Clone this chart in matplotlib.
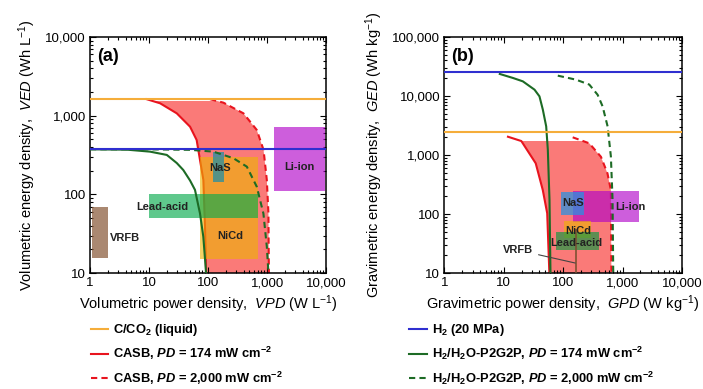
import matplotlib
matplotlib.use("Agg")
import matplotlib.pyplot as plt
from matplotlib.patches import Rectangle

# ---------------- data ----------------
power_ticks = [1, 10, 100, 1000, 10000]
power_tick_labels = ["1", "10", "100", "1,000", "10,000"]
ved_ticks = [10, 100, 1000, 10000]
ved_tick_labels = ["10", "100", "1,000", "10,000"]
ged_ticks = [10, 100, 1000, 10000, 100000]
ged_tick_labels = ["10", "100", "1,000", "10,000", "100,000"]

# (a) volumetric
cco2_ved = 1620
h2_ved = 374
casb174_vpd = [9.1, 15.4, 29.5, 49.5, 64, 83.2, 89, 92.5]
casb174_ved = [1620, 1436, 1070, 724, 491, 152, 35, 10]
casb2000_vpd = [108, 182, 397, 668, 870, 988, 1052, 1070]
casb2000_ved = [1620, 1462, 1070, 658, 366, 152, 57, 10]
p2g174_vpd = [1, 4.2, 10.4, 20, 29.5, 38, 49.5, 60, 73, 83, 92.5]
p2g174_ved = [374, 370, 349, 317, 250, 204, 150, 114, 57, 29, 10]
p2g2000_vpd = [1, 10, 50, 123, 268, 453, 668, 865, 988, 1052]
p2g2000_ved = [374, 373, 368, 349, 288, 225, 125, 57, 21.6, 10]
casb_fill_top_ved = 1550

# boxes: (x0, x1, y0, y1)
vol_boxes = {
    "VRFB": (1.08, 2.0, 15.5, 70),
    "NiCd": (73, 700, 15, 300),
    "Lead-acid": (10, 700, 50, 100),
    "NaS": (120, 186, 145, 350),
    "Li-ion": (1300, 9500, 110, 720),
}

# (b) gravimetric
cco2_ged = 2480
h2_ged = 25800
casb174_gpd = [11.8, 19.8, 34.6, 45.5, 54, 58.7]
casb174_ged = [2040, 1725, 724, 255, 103, 10]
casb2000_gpd = [145, 276, 433, 558, 637, 651]
casb2000_ged = [1995, 1578, 935, 490, 255, 10]
p2g174_gpd = [8.6, 14.3, 21, 33, 40, 45.6, 51.9, 55.3, 59, 61.3]
p2g174_ged = [23600, 20200, 17700, 12800, 9860, 5860, 3060, 1230, 175, 10]
p2g2000_gpd = [81.4, 165, 276, 381, 462, 561, 637, 680, 698]
p2g2000_ged = [22100, 18900, 15600, 10500, 6680, 3060, 950, 175, 10]
casb_fill_top_ged = 1700

grav_boxes = {
    "Li-ion": (145, 1900, 74, 245),
    "NaS": (93, 227, 96, 239),
    "NiCd": (105, 294, 40, 75),
    "Lead-acid": (76, 405, 25, 50),
    "VRFB": (158, 172, 10, 55),
}

legend_left = ["C/CO$_{\\mathbf{2}}$ (liquid)",
               "CASB, $\\mathbfit{PD}$ = 174 mW cm$^{\\mathbf{-2}}$",
               "CASB, $\\mathbfit{PD}$ = 2,000 mW cm$^{\\mathbf{-2}}$"]
legend_right = ["H$_{\\mathbf{2}}$ (20 MPa)",
                "H$_{\\mathbf{2}}$/H$_{\\mathbf{2}}$O-P2G2P, $\\mathbfit{PD}$ = 174 mW cm$^{\\mathbf{-2}}$",
                "H$_{\\mathbf{2}}$/H$_{\\mathbf{2}}$O-P2G2P, $\\mathbfit{PD}$ = 2,000 mW cm$^{\\mathbf{-2}}$"]

# ---------------- style ----------------
FONT = "Liberation Sans"
plt.rcParams["font.family"] = [FONT, "DejaVu Sans"]
plt.rcParams["mathtext.fontset"] = "custom"
plt.rcParams["mathtext.rm"] = FONT
plt.rcParams["mathtext.it"] = FONT + ":italic"
plt.rcParams["mathtext.bf"] = FONT + ":bold"
plt.rcParams["mathtext.bfit"] = FONT + ":italic:bold"

ORANGE = "#f5ad3a"
RED = "#e8141e"
BLUE = "#2f2fd0"
GREEN = "#1d6b25"
PINK = "#fa7a78"
DASH = (0, (3, 2))

vol_style = {
    "VRFB": ("#8a5a3a", 0.72),
    "NiCd": ("#eeb600", 0.6),
    "Lead-acid": ("#0aab4e", 0.65),
    "NaS": ("#1a8fa8", 0.72),
    "Li-ion": ("#b000c8", 0.63),
}
grav_style = {
    "VRFB": ("#7a5030", 0.8),
    "NiCd": ("#eeb600", 0.6),
    "Lead-acid": ("#0a9a40", 0.65),
    "NaS": ("#2592e3", 0.72),
    "Li-ion": ("#b000c8", 0.63),
}

fig = plt.figure(figsize=(7.03, 3.89), dpi=100)
ax_a = fig.add_axes([0.128, 0.298, 0.336, 0.607])
ax_b = fig.add_axes([0.632, 0.298, 0.338, 0.607])


def setup_axes(ax, yticks, ylabels, ylim):
    ax.set_xscale("log")
    ax.set_yscale("log")
    ax.set_xlim(1, 10000)
    ax.set_ylim(*ylim)
    ax.set_xticks(power_ticks, power_tick_labels)
    ax.set_yticks(yticks, ylabels)
    ax.tick_params(which="both", direction="in", top=True, right=True, width=0.8,
                   labelsize=9.5, pad=3)
    ax.tick_params(which="major", length=4)
    ax.tick_params(which="minor", length=2.5)
    for s in ax.spines.values():
        s.set_linewidth(1.1)


def casb_fill(ax, x_lo, y_lo, x_hi, y_hi, top):
    xs = list(x_lo) + list(x_hi)[::-1]
    ys = list(y_lo) + list(y_hi)[::-1]
    poly = ax.fill(xs, ys, color=PINK, lw=0, zorder=1)[0]
    clip = Rectangle((0.5, 1), 1e6, top - 1, transform=ax.transData)
    poly.set_clip_path(clip)


def draw_boxes(ax, boxes, style):
    for name, (x0, x1, y0, y1) in boxes.items():
        color, alpha = style[name]
        ax.add_patch(Rectangle((x0, y0), x1 - x0, y1 - y0, facecolor=color,
                               alpha=alpha, lw=0, zorder=3))


lab = dict(fontsize=8, fontweight="bold", color="#222222", ha="center", va="center", zorder=6)

# ---------- panel (a) ----------
ax = ax_a
setup_axes(ax, ved_ticks, ved_tick_labels, (10, 10000))
casb_fill(ax, casb174_vpd, casb174_ved, casb2000_vpd, casb2000_ved, casb_fill_top_ved)
l_casb174, = ax.plot(casb174_vpd, casb174_ved, color=RED, lw=1.5, zorder=2)
l_casb2000, = ax.plot(casb2000_vpd, casb2000_ved, color=RED, lw=1.5, ls=DASH, zorder=2)
draw_boxes(ax, vol_boxes, vol_style)
l_p2g174, = ax.plot(p2g174_vpd, p2g174_ved, color=GREEN, lw=1.5, zorder=4)
l_p2g2000, = ax.plot(p2g2000_vpd, p2g2000_ved, color=GREEN, lw=1.5, ls=DASH, zorder=4)
l_cco2 = ax.axhline(cco2_ved, color=ORANGE, lw=1.5, zorder=5)
l_h2 = ax.axhline(h2_ved, color=BLUE, lw=1.5, zorder=5)
ax.text(3.9, 28, "VRFB", **lab)
ax.text(17, 70, "Lead-acid", **lab)
ax.text(236, 30, "NiCd", **lab)
ax.text(159, 215, "NaS", **lab)
ax.text(3500, 225, "Li-ion", **lab)
ax.text(0.03, 0.955, "(a)", transform=ax.transAxes, fontsize=13, fontweight="bold",
        ha="left", va="top")
ax.set_xlabel("Volumetric power density,  $VPD$ (W L$^{-1}$)", fontsize=10.5, labelpad=3)
ax.set_ylabel("Volumetric energy density,  $VED$ (Wh L$^{-1}$)", fontsize=10.5, labelpad=5)

# ---------- panel (b) ----------
ax = ax_b
setup_axes(ax, ged_ticks, ged_tick_labels, (10, 100000))
casb_fill(ax, casb174_gpd, casb174_ged, casb2000_gpd, casb2000_ged, casb_fill_top_ged)
ax.plot(casb174_gpd, casb174_ged, color=RED, lw=1.5, zorder=2)
ax.plot(casb2000_gpd, casb2000_ged, color=RED, lw=1.5, ls=DASH, zorder=2)
draw_boxes(ax, grav_boxes, grav_style)
ax.plot(p2g174_gpd, p2g174_ged, color=GREEN, lw=1.5, zorder=4)
ax.plot(p2g2000_gpd, p2g2000_ged, color=GREEN, lw=1.5, ls=DASH, zorder=4)
ax.axhline(cco2_ged, color=ORANGE, lw=1.5, zorder=5)
ax.axhline(h2_ged, color=BLUE, lw=1.5, zorder=5)
ax.text(145, 156, "NaS", **lab)
ax.text(1376, 133, "Li-ion", **lab)
ax.text(182, 52, "NiCd", **lab)
ax.text(165, 32, "Lead-acid", **lab)
ax.annotate("VRFB", xy=(160, 14.8), xytext=(17.4, 24.5), fontsize=8, fontweight="bold",
            color="#222222", ha="center", va="center", zorder=6,
            arrowprops=dict(arrowstyle="-", color="#444444", lw=0.8,
                            shrinkA=2, shrinkB=0))
ax.text(0.03, 0.955, "(b)", transform=ax.transAxes, fontsize=13, fontweight="bold",
        ha="left", va="top")
ax.set_xlabel("Gravimetric power density,  $GPD$ (W kg$^{-1}$)", fontsize=10.5, labelpad=3)
ax.set_ylabel("Gravimetric energy density,  $GED$ (Wh kg$^{-1}$)", fontsize=10.5, labelpad=5)

# ---------- legends ----------
leg_kw = dict(loc="upper left", frameon=False, handlelength=1.35, handletextpad=0.4,
              labelspacing=0.55, borderpad=0, borderaxespad=0,
              prop={"family": FONT, "weight": "bold", "size": 9.3})
fig.legend([l_cco2, l_casb174, l_casb2000], legend_left,
           bbox_to_anchor=(0.129, 0.172), **leg_kw)
fig.legend([l_h2, l_p2g174, l_p2g2000], legend_right,
           bbox_to_anchor=(0.582, 0.172), **leg_kw)

fig.savefig("out.png", dpi=100)
